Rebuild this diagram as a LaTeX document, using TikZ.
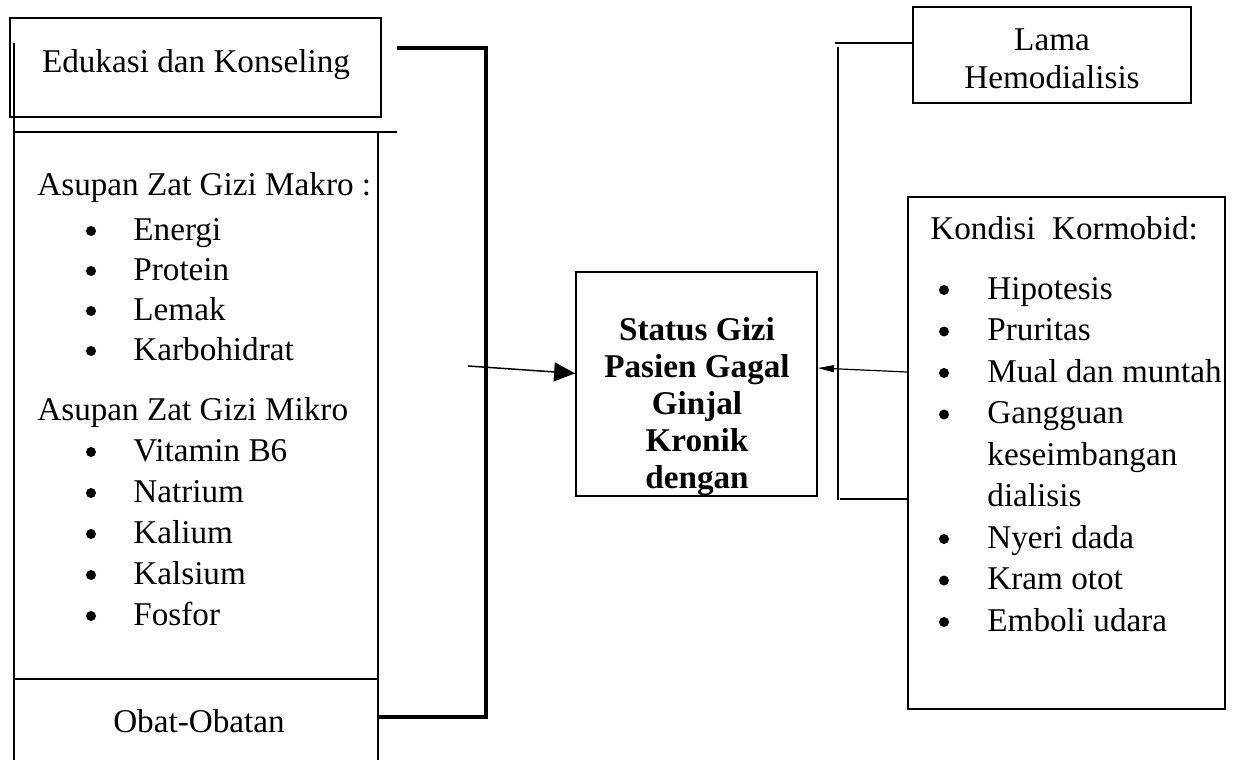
\documentclass[tikz,border=0pt]{standalone}
\usepackage{fontspec}
\setmainfont{Liberation Serif}
\usetikzlibrary{arrows.meta, calc}

\begin{document}
\begin{tikzpicture}[x=0.5pt, y=-0.5pt,
    box/.style={draw, line width=0.9pt, inner sep=0pt},
    txt/.style={inner sep=0pt, font=\fontsize{16.6}{20}\selectfont},
    bul/.style={circle, fill, inner sep=0pt, minimum size=5pt},
    col/.style={line width=1.1pt},
    thin/.style={line width=0.6pt}]
        \useasboundingbox (0,0) rectangle (1240,760);
        % Boxes
        \node[box, minimum width=185.5pt, minimum height=49.5pt] (edukasi) at (195.5,67.5) {};
        \node[box, minimum width=139pt, minimum height=48pt] (lama) at (1052,55) {};
        \node[box, minimum width=120.5pt, minimum height=112pt] (status) at (696.5,384) {};
        \node[box, minimum width=158.5pt, minimum height=256pt] (kondisi) at (1066.5,453) {};
        % Left column (open at the bottom)
        \draw[col] (14,43) -- (14,760);
        \draw[col] (14,132) -- (397,132);
        \draw[col] (378,132) -- (378,760);
        \draw[col] (14,679) -- (378,679);
        \node[txt, anchor=base] (edu-txt) at (196,72) {Edukasi dan Konseling};
        \node[txt, anchor=base west] (makro) at (37,195) {Asupan Zat Gizi Makro :};
        \foreach \name [count=\i from 0] in {Energi, Protein, Lemak, Karbohidrat} {
          \node[bul] (mak-dot-\i) at (91, 231+40*\i) {};
          \node[txt, anchor=base west] (mak-\i) at (133, 240+40*\i) {\name};
        }
        \node[txt, anchor=base west] (mikro) at (37,420) {Asupan Zat Gizi Mikro};
        \foreach \name [count=\i from 0] in {Vitamin B6, Natrium, Kalium, Kalsium, Fosfor} {
          \node[bul] (mik-dot-\i) at (91, 452+41*\i) {};
          \node[txt, anchor=base west] (mik-\i) at (133, 461+41*\i) {\name};
        }
        \node[txt, anchor=base] (obat) at (199,732) {Obat-Obatan};
        % Thick bracket joining the left column
        \coordinate (brk-top) at (397,48);
        \coordinate (brk-bot) at (378,717);
        \draw[line width=2.4pt] (brk-top) -- (486,48) -- (486,717) -- (brk-bot);
        % Arrow into the status box
        \coordinate (in-l) at (468,366);
        \draw[line width=0.75pt, -{Triangle[length=10.5pt, width=9.5pt]}] (in-l) -- (status.175);
        % Status text, cut off by the box
        \begin{scope}
          \clip (status.north west) rectangle (status.south east);
          \foreach \line [count=\i from 0] in {Status Gizi, Pasien Gagal, Ginjal, Kronik, dengan} {
            \node[txt, font=\fontsize{16.6}{20}\selectfont\bfseries, anchor=base] (st-\i) at (697, 340+37*\i) {\line};
          }
        \end{scope}
        % Right side
        \node[txt, anchor=base] (lama-1) at (1052,50) {Lama};
        \node[txt, anchor=base] (lama-2) at (1052,88) {Hemodialisis};
        \node[txt, anchor=base west] (kond-head) at (930,239) {Kondisi\ \ Kormobid:};
        \foreach \name/\dot [count=\i from 0] in {Hipotesis/1, Pruritas/1, Mual dan muntah/1,
            Gangguan/1, keseimbangan/0, dialisis/0, Nyeri dada/1, Kram otot/1, Emboli udara/1} {
          \ifnum\dot=1
            \node[bul] (kd-dot-\i) at (944, 290+41.5*\i) {};
          \fi
          \node[txt, anchor=base west] (kd-\i) at (987, 299+41.5*\i) {\name};
        }
        % Thin bracket and arrow
        \coordinate (tb-top) at (835,43);
        \coordinate (tb-bot) at (840,499);
        \draw[thin] ($(lama.west)+(0,-12)$) -- (tb-top);
        \draw[thin] (838,47) -- (838,500);
        \draw[thin] (tb-bot) -- ($(kondisi.west)+(0,46)$);
        \draw[thin, -{Triangle[length=8pt, width=3.5pt]}] ($(kondisi.west)+(0,-81)$) -- ($(status.east)+(0,-16)$);
\end{tikzpicture}
\end{document}
